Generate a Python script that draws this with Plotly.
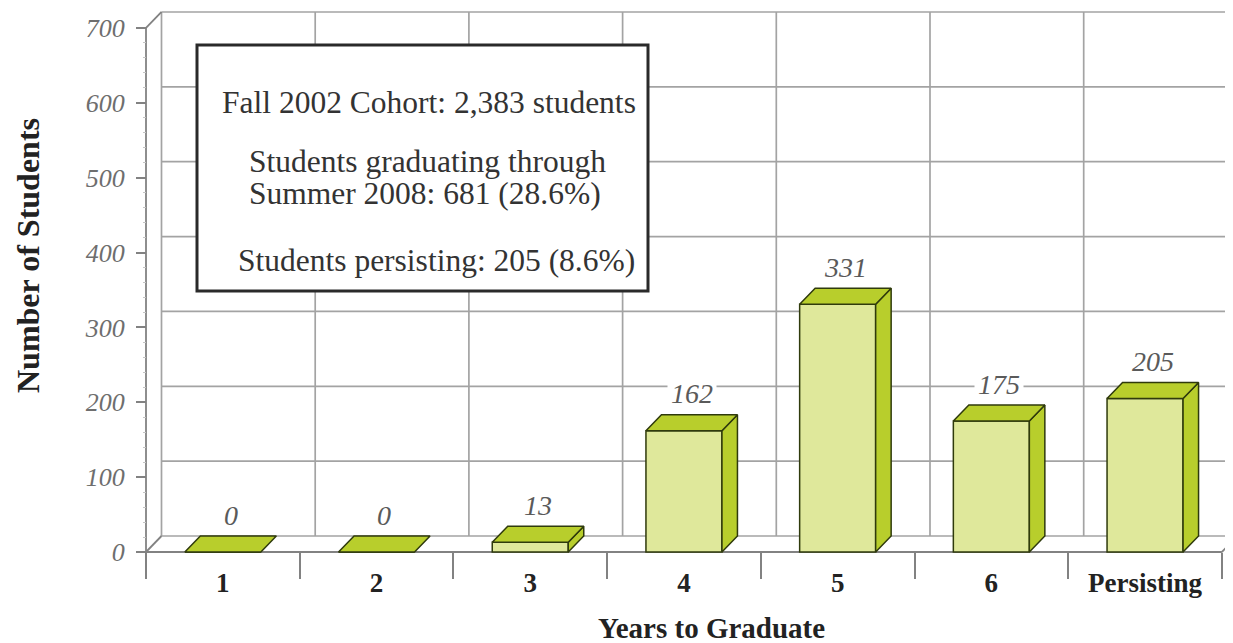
import plotly.graph_objects as go

# ---------------- data ----------------
categories = ["1", "2", "3", "4", "5", "6", "Persisting"]
students = [0, 0, 13, 162, 331, 175, 205]
y_ticks = [0, 100, 200, 300, 400, 500, 600, 700]
y_minor_step = 20
x_title = "Years to Graduate"
y_title = "Number of Students"
box_title = "Fall 2002 Cohort: 2,383 students"
box_grad_1 = "Students graduating through"
box_grad_2 = "Summer 2008: 681 (28.6%)"
box_persist = "Students persisting: 205 (8.6%)"

# ---------------- layout geometry (screen pixels) ----------------
SW, SH = 1233, 643        # browser window
OFF = 8                   # page body margin
W, H = SW - OFF, SH - OFF # figure size
KX = 153.7          # px per category
KY = 0.7486         # px per student
X0, Y0 = 146, 552   # screen pixel of front-left corner (x=0.5, y=0)
PL, PR, PT, PB = 143, 1233, 8, 556  # plot area edges in screen px


def px(xs):
    return min(max((xs - OFF) / W, 0), 1)


def py(ys):
    return min(max(1 - (ys - OFF) / H, 0), 1)


n = len(categories)
x_pos = [i + 1 for i in range(n)]
xl, xh = 0.5, n + 0.5
ymax = y_ticks[-1]
xr = [xl - (X0 - PL) / KX, xl + (PR - X0) / KX]
yr = [-(PB - Y0) / KY, (Y0 - PT) / KY]
DX = 15.5 / KX       # depth offset in x units
DY = 16 / KY         # depth offset in y units
BW = 76 / KX         # bar width

FRONT = "#dfe89b"
SIDE = "#b8ce2c"
EDGE = "#2f3a0c"
GRID = "#a3a3a3"
AXIS = "#828282"
FONT = "Liberation Serif"

fig = go.Figure()

# front faces of bars
fig.add_trace(go.Bar(
    x=x_pos, y=students, width=BW,
    marker=dict(color=FRONT, line=dict(color=EDGE, width=1.5)),
    hoverinfo="skip", showlegend=False,
))

# side and top faces
for c, v in zip(x_pos, students):
    l, r = c - BW / 2, c + BW / 2
    if v > 0:
        fig.add_trace(go.Scatter(
            x=[r, r, r + DX, r + DX, r], y=[0, v, v + DY, DY, 0],
            fill="toself", fillcolor=SIDE, mode="lines",
            line=dict(color=EDGE, width=1.5), hoverinfo="skip", showlegend=False,
        ))
    fig.add_trace(go.Scatter(
        x=[l, r, r + DX, l + DX, l], y=[v, v, v + DY, v + DY, v],
        fill="toself", fillcolor=SIDE, mode="lines",
        line=dict(color=EDGE, width=1.5), hoverinfo="skip", showlegend=False,
    ))

# walls and grid lines
shapes = []


def seg(x0, y0, x1, y1, color=GRID, w=1.7):
    shapes.append(dict(type="line", xref="x", yref="y", x0=x0, y0=y0, x1=x1, y1=y1,
                       line=dict(color=color, width=w), layer="below"))


for t in y_ticks[1:]:
    seg(xl + DX, t + DY, xh + DX, t + DY)
bounds = [xl + i for i in range(n + 1)]
for b in bounds:
    seg(b + DX, DY, b + DX, ymax + DY)
seg(xl + DX, DY, xh + DX, DY)
seg(xl, 0, xl, ymax, AXIS, 1.8)
seg(xl, ymax, xl + DX, ymax + DY, AXIS, 1.8)
seg(xl, 0, xl + DX, DY, AXIS, 1.8)
seg(xl, 0, xh, 0, AXIS, 1.8)
seg(xh, 0, xh + DX, DY, AXIS, 1.8)

# info box
shapes.append(dict(type="rect", xref="paper", yref="paper",
                   x0=px(197), x1=px(648), y0=py(291), y1=py(45),
                   fillcolor="white", line=dict(color="#2a2a2a", width=3), layer="above"))

annotations = []
# value labels
for c, v in zip(x_pos, students):
    annotations.append(dict(
        x=c + DX / 2, y=v + DY, xref="x", yref="y", yshift=21,
        text=f"<i>{v}</i>", showarrow=False, xanchor="center", yanchor="middle",
        font=dict(family=FONT, size=28, color="#5a5a5a"),
        bgcolor="white", borderpad=3,
    ))

box_font = dict(family=FONT, size=31.5, color="#333333")
annotations += [
    dict(x=px(429), y=py(103), xref="paper", yref="paper", text=box_title,
         showarrow=False, xanchor="center", yanchor="middle", font=box_font),
    dict(x=px(247), y=py(162), xref="paper", yref="paper", text=box_grad_1,
         showarrow=False, xanchor="left", yanchor="middle", font=box_font),
    dict(x=px(247), y=py(194), xref="paper", yref="paper", text=box_grad_2,
         showarrow=False, xanchor="left", yanchor="middle", font=box_font),
    dict(x=px(436), y=py(260), xref="paper", yref="paper", text=box_persist,
         showarrow=False, xanchor="center", yanchor="middle", font=box_font),
    dict(x=px(28), y=py(256), xref="paper", yref="paper", text=f"<b>{y_title}</b>",
         textangle=-90, showarrow=False, xanchor="center", yanchor="middle",
         font=dict(family=FONT, size=32, color="#222222")),
    dict(x=px(711), y=py(628), xref="paper", yref="paper", text=f"<b>{x_title}</b>",
         showarrow=False, xanchor="center", yanchor="middle",
         font=dict(family=FONT, size=29, color="#222222")),
]

fig.update_layout(
    width=W, height=H,
    margin=dict(l=0, r=0, t=0, b=0, pad=0, autoexpand=False),
    paper_bgcolor="white", plot_bgcolor="white",
    showlegend=False,
    shapes=shapes, annotations=annotations,
    xaxis=dict(
        range=xr, domain=[px(PL), px(PR)], anchor="free", position=py(Y0),
        showgrid=False, zeroline=False, showline=False, fixedrange=True, automargin=False,
        tickmode="array", tickvals=x_pos, ticktext=[f"<b>{c}</b>" for c in categories],
        ticks="outside", ticklen=7, tickcolor="rgba(0,0,0,0)",
        tickfont=dict(family=FONT, size=27, color="#222222"),
        minor=dict(tickmode="array", tickvals=bounds, ticks="outside", ticklen=26,
                   tickcolor=AXIS, tickwidth=1.6, showgrid=False),
    ),
    yaxis=dict(
        range=yr, domain=[py(PB), py(PT)], anchor="free", position=px(X0),
        showgrid=False, zeroline=False, showline=False, fixedrange=True, automargin=False,
        tickmode="array", tickvals=y_ticks, ticktext=[f"<i>{t}</i>" for t in y_ticks],
        ticks="outside", ticklen=10, tickcolor=AXIS, tickwidth=1.6, ticklabelstandoff=6,
        tickfont=dict(family=FONT, size=26, color="#6e6e6e"),
        minor=dict(tickmode="array", tickvals=list(range(0, ymax + 1, y_minor_step)),
                   ticks="outside", ticklen=3, tickcolor="#c4c4c4", tickwidth=1, showgrid=False),
    ),
)

fig.write_html("out.html")
